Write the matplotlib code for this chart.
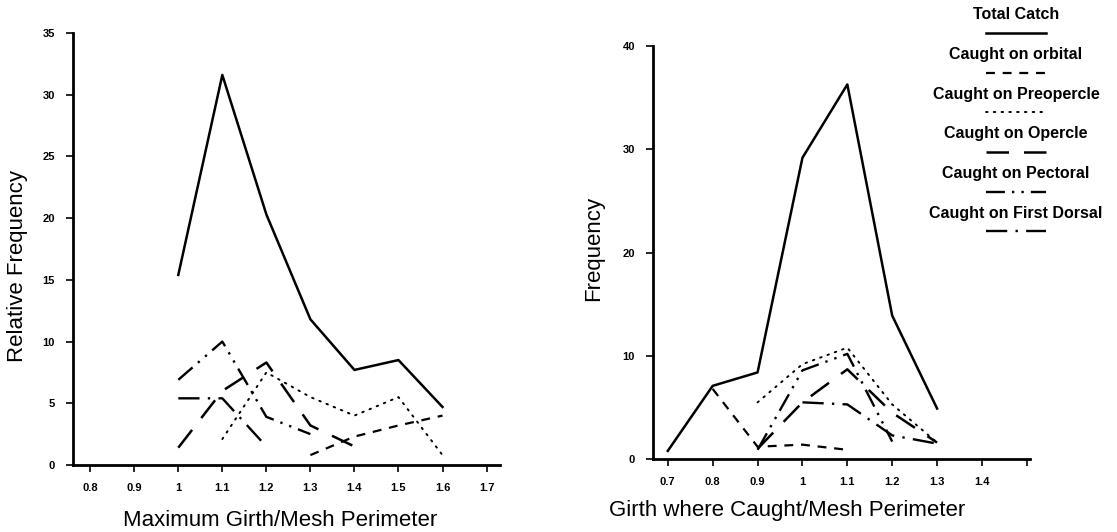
import matplotlib
matplotlib.use('Agg')
import matplotlib.pyplot as plt
from matplotlib.lines import Line2D

plt.rcParams['font.family'] = ['Liberation Sans', 'DejaVu Sans']

# left panel: relative frequency vs maximum girth / mesh perimeter
l_total_x = [1.0, 1.1, 1.2, 1.3, 1.4, 1.5, 1.6]
l_total = [15.4, 31.6, 20.3, 11.8, 7.7, 8.5, 4.7]
l_orbital_x = [1.3, 1.4, 1.5, 1.6]
l_orbital = [0.8, 2.3, 3.2, 4.0]
l_preop_x = [1.1, 1.2, 1.3, 1.4, 1.5, 1.6]
l_preop = [2.1, 7.5, 5.5, 4.0, 5.5, 0.8]
l_operc_x = [1.0, 1.1, 1.2, 1.3, 1.4]
l_operc = [1.4, 6.0, 8.3, 3.2, 1.5]
l_pect_x = [1.0, 1.1, 1.2, 1.3]
l_pect = [6.9, 10.0, 3.9, 2.5]
l_dorsal_x = [1.0, 1.1, 1.2]
l_dorsal = [5.4, 5.4, 1.5]
l_xticks = [0.8, 0.9, 1.0, 1.1, 1.2, 1.3, 1.4, 1.5, 1.6, 1.7]
l_xlabels = ['0.8', '0.9', '1', '1.1', '1.2', '1.3', '1.4', '1.5', '1.6', '1.7']
l_yticks = [0, 5, 10, 15, 20, 25, 30, 35]

# right panel: frequency vs girth where caught / mesh perimeter
r_total_x = [0.7, 0.8, 0.9, 1.0, 1.1, 1.2, 1.3]
r_total = [0.8, 7.1, 8.4, 29.2, 36.3, 13.9, 4.9]
r_orbital_x = [0.8, 0.9, 1.0, 1.1]
r_orbital = [6.8, 1.2, 1.4, 0.9]
r_preop_x = [0.9, 1.0, 1.1, 1.2, 1.3]
r_preop = [5.5, 9.2, 10.8, 5.3, 1.6]
r_operc_x = [0.9, 1.0, 1.1, 1.2, 1.3]
r_operc = [1.0, 5.5, 8.7, 4.5, 1.6]
r_pect_x = [0.9, 1.0, 1.1, 1.2]
r_pect = [0.9, 8.6, 10.2, 1.7]
r_dorsal_x = [1.0, 1.1, 1.2, 1.3]
r_dorsal = [5.5, 5.3, 2.3, 1.5]
r_xticks = [0.7, 0.8, 0.9, 1.0, 1.1, 1.2, 1.3, 1.4, 1.5]
r_xlabels = ['0.7', '0.8', '0.9', '1', '1.1', '1.2', '1.3', '1.4', '']
r_yticks = [0, 10, 20, 30, 40]

names = ['Total Catch', 'Caught on orbital', 'Caught on Preopercle',
         'Caught on Opercle', 'Caught on Pectoral', 'Caught on First Dorsal']
styles = [
    dict(ls='-', lw=1.8),
    dict(ls=(0, (4, 3.5)), lw=1.6),
    dict(ls=(0, (0.8, 3.2)), lw=1.4, dash_capstyle='round'),
    dict(ls=(0, (9, 6)), lw=1.8),
    dict(ls=(0, (8, 3, 1, 3, 1, 3)), lw=1.7),
    dict(ls=(0, (9, 3.5, 1, 3.5)), lw=1.7),
]

fig = plt.figure(figsize=(11.17, 5.32), dpi=100)
ax1 = fig.add_axes([0.0654, 0.126, 0.382, 0.812])
ax2 = fig.add_axes([0.5846, 0.137, 0.3375, 0.776])

left = [(l_total_x, l_total), (l_orbital_x, l_orbital), (l_preop_x, l_preop),
        (l_operc_x, l_operc), (l_pect_x, l_pect), (l_dorsal_x, l_dorsal)]
right = [(r_total_x, r_total), (r_orbital_x, r_orbital), (r_preop_x, r_preop),
         (r_operc_x, r_operc), (r_pect_x, r_pect), (r_dorsal_x, r_dorsal)]

for (x, y), st in zip(left, styles):
    ax1.plot(x, y, color='black', **st)
for (x, y), st in zip(right, styles):
    ax2.plot(x, y, color='black', **st)

ax1.set_xlim(0.761, 1.73)
ax1.set_ylim(0, 35)
ax1.set_xticks(l_xticks)
ax1.set_xticklabels(l_xlabels)
ax1.set_yticks(l_yticks)

ax2.set_xlim(0.667, 1.507)
ax2.set_ylim(0, 40)
ax2.set_xticks(r_xticks)
ax2.set_xticklabels(r_xlabels)
ax2.set_yticks(r_yticks)

for ax in (ax1, ax2):
    ax.spines['top'].set_visible(False)
    ax.spines['right'].set_visible(False)
    ax.spines['left'].set_linewidth(2)
    ax.spines['bottom'].set_linewidth(2)
    ax.tick_params(axis='both', direction='out', length=5, width=1.2,
                   labelsize=8, pad=8)
    for lab in ax.get_xticklabels() + ax.get_yticklabels():
        lab.set_fontweight('bold')

ax1.set_ylabel('Relative Frequency', fontsize=16)
ax1.yaxis.set_label_coords(-0.105, 0.46)
ax1.set_xlabel('Maximum Girth/Mesh Perimeter', fontsize=16)
ax1.xaxis.set_label_coords(0.485, -0.104)

ax2.set_ylabel('Frequency', fontsize=16)
ax2.yaxis.set_label_coords(-0.13, 0.51)
ax2.set_xlabel('Girth where Caught/Mesh Perimeter', fontsize=16)
ax2.xaxis.set_label_coords(0.355, -0.098)

# stacked legend: name on top, line sample underneath
cx = 0.9096
for i, (name, st) in enumerate(zip(names, styles)):
    ty = 0.972 - i * 0.0745
    ly = ty - 0.034
    fig.text(cx, ty, name, ha='center', va='center', fontsize=11.5,
             fontweight='bold')
    fig.add_artist(Line2D([cx - 0.027, cx + 0.027], [ly, ly],
                          color='black', transform=fig.transFigure, **st))

fig.savefig('out.png', dpi=100)
